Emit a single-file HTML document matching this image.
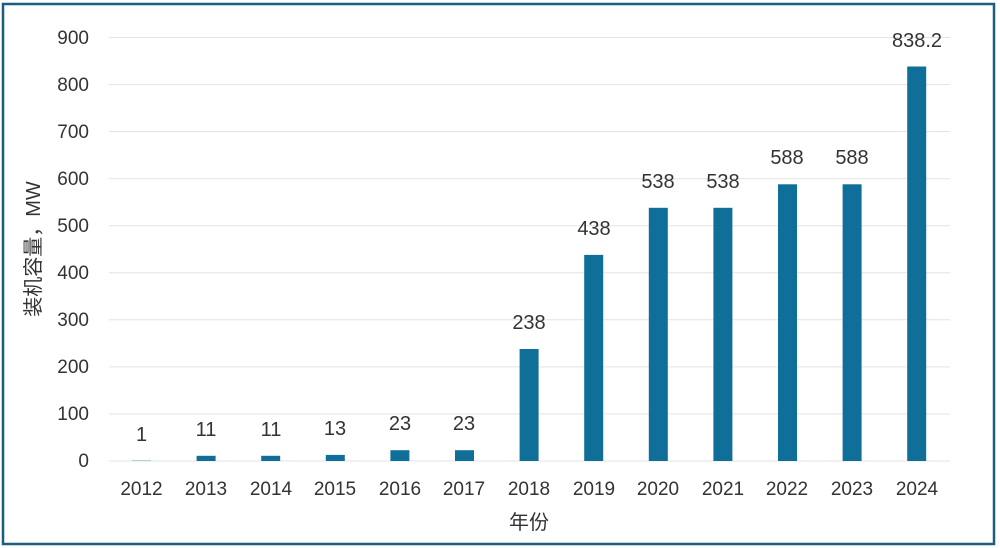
<!DOCTYPE html>
<html><head><meta charset="utf-8"><style>
html,body{margin:0;padding:0;background:#fff;}
svg{display:block;}
text{font-family:"Liberation Sans","Noto Sans CJK SC",sans-serif;fill:#333;}
</style></head><body>
<svg width="1000" height="548" viewBox="0 0 1000 548">
<rect x="3" y="4" width="991" height="540" fill="#fff" stroke="#1b5e7e" stroke-width="2.5"/>
<g stroke="#e3e3e3" stroke-width="1">
<line x1="109" x2="950" y1="37.5" y2="37.5"/>
<line x1="109" x2="950" y1="84.6" y2="84.6"/>
<line x1="109" x2="950" y1="131.6" y2="131.6"/>
<line x1="109" x2="950" y1="178.7" y2="178.7"/>
<line x1="109" x2="950" y1="225.7" y2="225.7"/>
<line x1="109" x2="950" y1="272.8" y2="272.8"/>
<line x1="109" x2="950" y1="319.8" y2="319.8"/>
<line x1="109" x2="950" y1="366.9" y2="366.9"/>
<line x1="109" x2="950" y1="413.9" y2="413.9"/>
<line x1="109" x2="950" y1="461" y2="461"/>
</g>
<g font-size="19" text-anchor="end">
<text x="89" y="44">900</text><text x="89" y="91">800</text><text x="89" y="138">700</text>
<text x="89" y="185">600</text><text x="89" y="232">500</text><text x="89" y="279">400</text>
<text x="89" y="326">300</text><text x="89" y="373">200</text><text x="89" y="420">100</text>
<text x="89" y="467">0</text>
</g>
<g fill="#0f6f98">
<rect x="132" y="460.5" width="19" height="0.5" fill="#6a9fb8"/>
<rect x="196.6" y="455.8" width="19" height="5.2"/>
<rect x="261.2" y="455.8" width="19" height="5.2"/>
<rect x="325.8" y="454.9" width="19" height="6.1"/>
<rect x="390.4" y="450.2" width="19" height="10.8"/>
<rect x="455" y="450.2" width="19" height="10.8"/>
<rect x="519.6" y="349" width="19" height="112"/>
<rect x="584.2" y="254.9" width="19" height="206.1"/>
<rect x="648.8" y="207.8" width="19" height="253.2"/>
<rect x="713.4" y="207.8" width="19" height="253.2"/>
<rect x="778" y="184.3" width="19" height="276.7"/>
<rect x="842.6" y="184.3" width="19" height="276.7"/>
<rect x="907.2" y="66.5" width="19" height="394.5"/>
</g>
<g font-size="20" text-anchor="middle">
<text x="141.5" y="441">1</text><text x="206" y="436">11</text><text x="271" y="436">11</text>
<text x="335" y="435">13</text><text x="400" y="430">23</text><text x="464" y="430">23</text>
<text x="529" y="329">238</text><text x="594" y="235">438</text><text x="658" y="188">538</text>
<text x="723" y="188">538</text><text x="787" y="164">588</text><text x="852" y="164">588</text>
<text x="917" y="47">838.2</text>
</g>
<g font-size="19" text-anchor="middle">
<text x="141.5" y="495">2012</text><text x="206" y="495">2013</text><text x="271" y="495">2014</text>
<text x="335" y="495">2015</text><text x="400" y="495">2016</text><text x="464" y="495">2017</text>
<text x="529" y="495">2018</text><text x="594" y="495">2019</text><text x="658" y="495">2020</text>
<text x="723" y="495">2021</text><text x="787" y="495">2022</text><text x="852" y="495">2023</text>
<text x="917" y="495">2024</text>
</g>
<text x="529" y="529" font-size="20" text-anchor="middle">年份</text>
<text transform="translate(40,249) rotate(-90)" font-size="20" text-anchor="middle">装机容量，MW</text>
</svg>
</body></html>
